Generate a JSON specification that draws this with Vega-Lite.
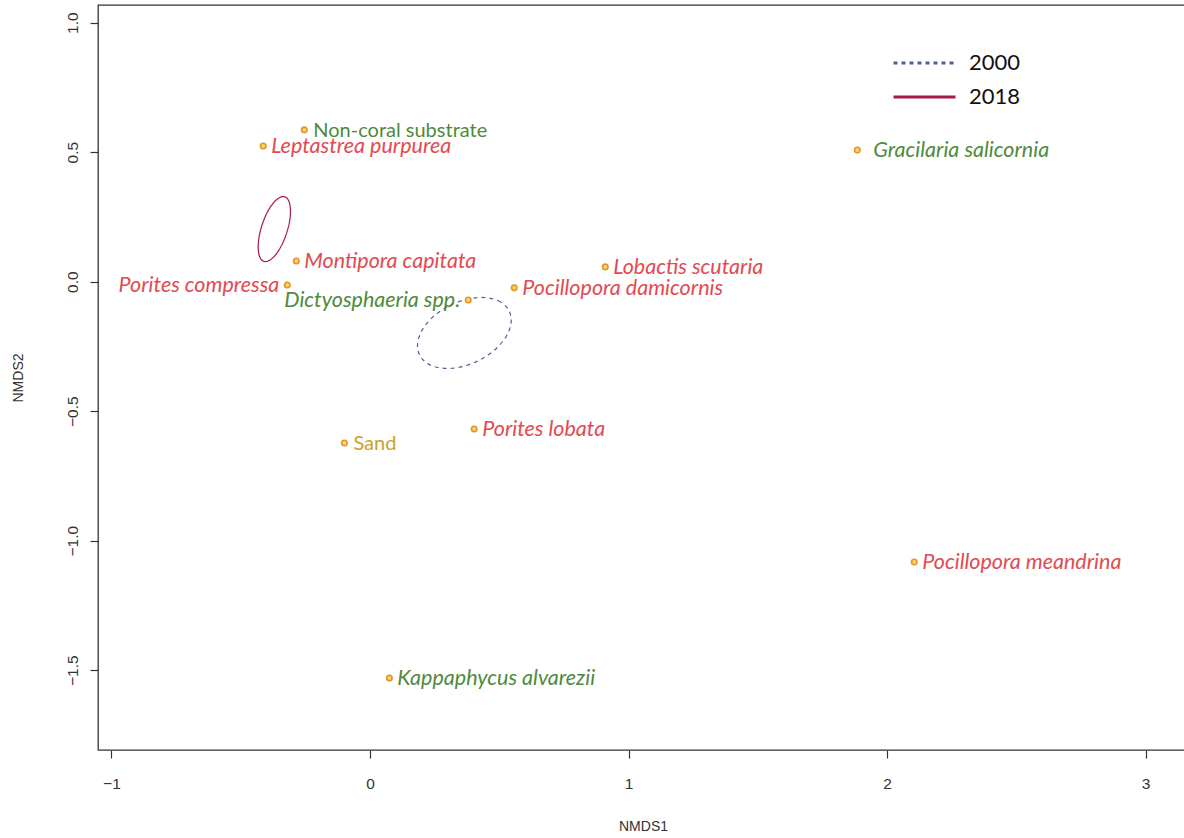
{
  "$schema": "https://vega.github.io/schema/vega-lite/v6.json",
  "autosize": {"type": "none"},
  "padding": {"left": 98, "top": 5, "right": 0, "bottom": 88},
  "width": 1090,
  "height": 745,
  "background": "white",
  "datasets": {
    "pts": [
      {"label": "Non-coral substrate", "x": -0.254, "y": 0.586, "group": "substrate"},
      {"label": "Leptastrea purpurea", "x": -0.413, "y": 0.524, "group": "coral"},
      {"label": "Gracilaria salicornia", "x": 1.885, "y": 0.508, "group": "algae"},
      {"label": "Montipora capitata", "x": -0.285, "y": 0.080, "group": "coral"},
      {"label": "Porites compressa", "x": -0.320, "y": -0.013, "group": "coral"},
      {"label": "Dictyosphaeria spp.", "x": 0.380, "y": -0.071, "group": "algae"},
      {"label": "Pocillopora damicornis", "x": 0.558, "y": -0.024, "group": "coral"},
      {"label": "Lobactis scutaria", "x": 0.910, "y": 0.057, "group": "coral"},
      {"label": "Porites lobata", "x": 0.403, "y": -0.569, "group": "coral"},
      {"label": "Sand", "x": -0.099, "y": -0.623, "group": "sand"},
      {"label": "Pocillopora meandrina", "x": 2.105, "y": -1.082, "group": "coral"},
      {"label": "Kappaphycus alvarezii", "x": 0.075, "y": -1.530, "group": "algae"}
    ],
    "ell": [
      {"year": "2000", "k": 0, "x": 0.5385, "y": -0.1135},
      {"year": "2000", "k": 1, "x": 0.5052, "y": -0.0786},
      {"year": "2000", "k": 2, "x": 0.4505, "y": -0.0620},
      {"year": "2000", "k": 3, "x": 0.3829, "y": -0.0659},
      {"year": "2000", "k": 4, "x": 0.3124, "y": -0.0901},
      {"year": "2000", "k": 5, "x": 0.2499, "y": -0.1307},
      {"year": "2000", "k": 6, "x": 0.2051, "y": -0.1814},
      {"year": "2000", "k": 7, "x": 0.1846, "y": -0.2348},
      {"year": "2000", "k": 8, "x": 0.1915, "y": -0.2825},
      {"year": "2000", "k": 9, "x": 0.2248, "y": -0.3174},
      {"year": "2000", "k": 10, "x": 0.2795, "y": -0.3340},
      {"year": "2000", "k": 11, "x": 0.3471, "y": -0.3301},
      {"year": "2000", "k": 12, "x": 0.4176, "y": -0.3059},
      {"year": "2000", "k": 13, "x": 0.4801, "y": -0.2653},
      {"year": "2000", "k": 14, "x": 0.5249, "y": -0.2146},
      {"year": "2000", "k": 15, "x": 0.5454, "y": -0.1612},
      {"year": "2018", "k": 0, "x": -0.3295, "y": 0.3276},
      {"year": "2018", "k": 1, "x": -0.3144, "y": 0.3122},
      {"year": "2018", "k": 2, "x": -0.3077, "y": 0.2801},
      {"year": "2018", "k": 3, "x": -0.3105, "y": 0.2364},
      {"year": "2018", "k": 4, "x": -0.3224, "y": 0.1875},
      {"year": "2018", "k": 5, "x": -0.3415, "y": 0.1410},
      {"year": "2018", "k": 6, "x": -0.3649, "y": 0.1039},
      {"year": "2018", "k": 7, "x": -0.3892, "y": 0.0820},
      {"year": "2018", "k": 8, "x": -0.4105, "y": 0.0784},
      {"year": "2018", "k": 9, "x": -0.4256, "y": 0.0938},
      {"year": "2018", "k": 10, "x": -0.4323, "y": 0.1259},
      {"year": "2018", "k": 11, "x": -0.4295, "y": 0.1696},
      {"year": "2018", "k": 12, "x": -0.4176, "y": 0.2185},
      {"year": "2018", "k": 13, "x": -0.3985, "y": 0.2650},
      {"year": "2018", "k": 14, "x": -0.3751, "y": 0.3021},
      {"year": "2018", "k": 15, "x": -0.3508, "y": 0.3240}
    ]
  },
  "config": {
    "view": {"stroke": "#333333", "strokeWidth": 1.3},
    "axis": {
      "grid": false,
      "domain": false,
      "tickColor": "#333333",
      "tickSize": 8,
      "tickWidth": 1.2,
      "labelFont": "Liberation Sans",
      "labelFontSize": 15.5,
      "labelColor": "#333333",
      "titleFont": "Liberation Sans",
      "titleFontSize": 14,
      "titleFontWeight": "normal",
      "titleColor": "#333333"
    }
  },
  "resolve": {"scale": {"color": "independent", "fill": "independent", "strokeDash": "independent"}},
  "layer": [
    {
      "data": {"name": "ell"},
      "mark": {"type": "line", "interpolate": "cardinal-closed", "strokeWidth": 1.2},
      "encoding": {
        "x": {"field": "x", "type": "quantitative", "scale": {"domain": [-1.052, 3.164], "nice": false, "zero": false},
              "axis": {"values": [-1, 0, 1, 2, 3], "format": "d", "title": "NMDS1", "labelPadding": 18, "titlePadding": 28}},
        "y": {"field": "y", "type": "quantitative", "scale": {"domain": [-1.808, 1.068], "nice": false, "zero": false},
              "axis": {"values": [-1.5, -1, -0.5, 0, 0.5, 1], "format": ".1f", "title": "NMDS2", "labelAngle": 270, "labelAlign": "center", "labelBaseline": "bottom", "labelPadding": 10, "titlePadding": 40}},
        "order": {"field": "k", "type": "quantitative"},
        "color": {"field": "year", "type": "nominal",
                  "scale": {"domain": ["2000", "2018"], "range": ["#4F5F9A", "#A8174F"]},
                  "legend": {"orient": "none", "legendX": 794, "legendY": 41, "title": null, "symbolType": "stroke", "symbolSize": 3844, "symbolStrokeWidth": 3, "labelFont": "Lato", "labelFontSize": 22, "labelColor": "#111111", "labelOffset": 12, "clipHeight": 34, "rowPadding": 0, "padding": 0}},
        "strokeDash": {"field": "year", "type": "nominal",
                       "scale": {"domain": ["2000", "2018"], "range": [[4, 4], [1, 0]]},
                       "legend": {"orient": "none", "legendX": 794, "legendY": 41, "title": null, "symbolType": "stroke", "symbolSize": 3844, "symbolStrokeWidth": 3, "labelFont": "Lato", "labelFontSize": 22, "labelColor": "#111111", "labelOffset": 12, "clipHeight": 34, "rowPadding": 0, "padding": 0}}
      }
    },
    {
      "data": {"name": "pts"},
      "mark": {"type": "point", "shape": "circle", "filled": false, "size": 30, "stroke": "#E8951E", "strokeWidth": 1.6, "fill": "#F5D77A", "fillOpacity": 1},
      "encoding": {
        "x": {"field": "x", "type": "quantitative"},
        "y": {"field": "y", "type": "quantitative"}
      }
    },
    {
      "data": {"name": "pts"},
      "transform": [{"filter": {"field": "label", "oneOf": ["Leptastrea purpurea", "Montipora capitata", "Pocillopora damicornis", "Lobactis scutaria", "Porites lobata", "Pocillopora meandrina", "Kappaphycus alvarezii"]}}],
      "mark": {"type": "text", "align": "left", "baseline": "middle", "dx": 8, "dy": 1, "font": "Lato", "fontSize": 21.5, "fontStyle": "italic"},
      "encoding": {
        "x": {"field": "x", "type": "quantitative"},
        "y": {"field": "y", "type": "quantitative"},
        "text": {"field": "label"},
        "fill": {"field": "group", "type": "nominal", "scale": {"domain": ["coral", "algae", "substrate", "sand"], "range": ["#E34A50", "#4F8A3C", "#4F8A3C", "#C9A227"]}, "legend": null}
      }
    },
    {
      "data": {"name": "pts"},
      "transform": [{"filter": {"field": "label", "equal": "Gracilaria salicornia"}}],
      "mark": {"type": "text", "align": "left", "baseline": "middle", "dx": 16, "dy": 1, "font": "Lato", "fontSize": 21.5, "fontStyle": "italic"},
      "encoding": {
        "x": {"field": "x", "type": "quantitative"},
        "y": {"field": "y", "type": "quantitative"},
        "text": {"field": "label"},
        "fill": {"field": "group", "type": "nominal", "scale": {"domain": ["coral", "algae", "substrate", "sand"], "range": ["#E34A50", "#4F8A3C", "#4F8A3C", "#C9A227"]}, "legend": null}
      }
    },
    {
      "data": {"name": "pts"},
      "transform": [{"filter": {"field": "label", "oneOf": ["Non-coral substrate", "Sand"]}}],
      "mark": {"type": "text", "align": "left", "baseline": "middle", "dx": 9, "dy": 1, "font": "Lato", "fontSize": 20},
      "encoding": {
        "x": {"field": "x", "type": "quantitative"},
        "y": {"field": "y", "type": "quantitative"},
        "text": {"field": "label"},
        "fill": {"field": "group", "type": "nominal", "scale": {"domain": ["coral", "algae", "substrate", "sand"], "range": ["#E34A50", "#4F8A3C", "#4F8A3C", "#C9A227"]}, "legend": null}
      }
    },
    {
      "data": {"name": "pts"},
      "transform": [{"filter": {"field": "label", "oneOf": ["Porites compressa", "Dictyosphaeria spp."]}}],
      "mark": {"type": "text", "align": "right", "baseline": "middle", "dx": -8, "dy": 1, "font": "Lato", "fontSize": 21.5, "fontStyle": "italic"},
      "encoding": {
        "x": {"field": "x", "type": "quantitative"},
        "y": {"field": "y", "type": "quantitative"},
        "text": {"field": "label"},
        "fill": {"field": "group", "type": "nominal", "scale": {"domain": ["coral", "algae", "substrate", "sand"], "range": ["#E34A50", "#4F8A3C", "#4F8A3C", "#C9A227"]}, "legend": null}
      }
    }
  ]
}
